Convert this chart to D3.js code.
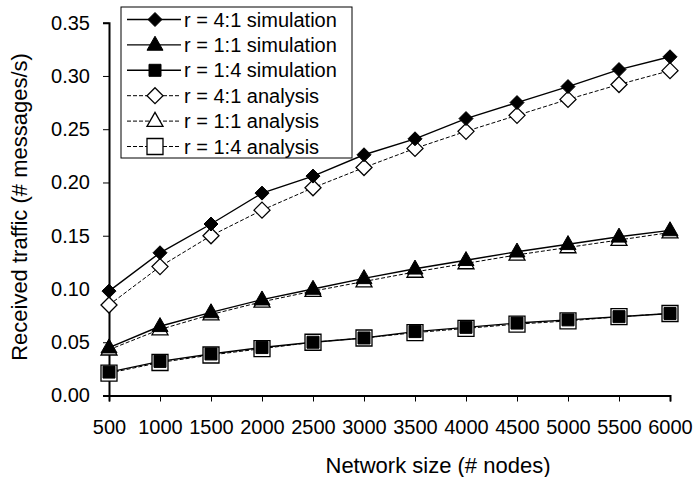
<!DOCTYPE html>
<html>
<head>
<meta charset="utf-8">
<script src="https://cdn.jsdelivr.net/npm/d3@7"></script>
<style>
  body { margin: 0; background: #fff; }
  text { font-family: "Liberation Sans", Arial, sans-serif; fill: #000; }
</style>
</head>
<body>
<script>
(function () {
  'use strict'
  const sizes = [500, 1000, 1500, 2000, 2500, 3000, 3500, 4000, 4500, 5000, 5500, 6000]
  const yTicks = [0, 0.05, 0.10, 0.15, 0.20, 0.25, 0.30, 0.35]

  const sim41 = [0.098, 0.134, 0.161, 0.190, 0.206, 0.226, 0.241, 0.260, 0.275, 0.290, 0.306, 0.318]
  const sim11 = [0.045, 0.065, 0.078, 0.090, 0.100, 0.110, 0.119, 0.127, 0.135, 0.142, 0.149, 0.155]
  const sim14 = [0.022, 0.032, 0.039, 0.045, 0.050, 0.054, 0.060, 0.064, 0.068, 0.071, 0.074, 0.077]
  const ana41 = [0.085, 0.121, 0.150, 0.174, 0.195, 0.214, 0.232, 0.248, 0.263, 0.278, 0.292, 0.305]
  const ana11 = [0.043, 0.062, 0.076, 0.088, 0.098, 0.107, 0.116, 0.124, 0.132, 0.139, 0.146, 0.153]
  const ana14 = [0.021, 0.031, 0.038, 0.044, 0.050, 0.054, 0.059, 0.063, 0.067, 0.070, 0.074, 0.077]

  // analysis drawn first so the filled markers sit on top
  const series = [
    {name: 'r = 4:1 analysis', values: ana41, shape: 'diamond', filled: false, legend: 3},
    {name: 'r = 1:1 analysis', values: ana11, shape: 'triangle', filled: false, legend: 4},
    {name: 'r = 1:4 analysis', values: ana14, shape: 'square', filled: false, legend: 5},
    {name: 'r = 4:1 simulation', values: sim41, shape: 'diamond', filled: true, legend: 0},
    {name: 'r = 1:1 simulation', values: sim11, shape: 'triangle', filled: true, legend: 1},
    {name: 'r = 1:4 simulation', values: sim14, shape: 'square', filled: true, legend: 2}
  ]

  const width = 696
  const height = 477
  const svg = d3.select('body').append('svg')
    .attr('width', width)
    .attr('height', height)

  const x = d3.scalePoint().domain(sizes).range([109, 670])
  const y = d3.scaleLinear().domain([0, 0.35]).range([395.5, 22.7])

  function markerPath(shape, filled) {
    if (shape === 'diamond') {
      const r = filled ? 7 : 8
      return `M0,${-r}L${r},0L0,${r}L${-r},0Z`
    }
    if (shape === 'triangle') {
      const w = 8, h = 14
      return `M0,${-h * 0.62}L${w},${h * 0.38}L${-w},${h * 0.38}Z`
    }
    const s = filled ? 6 : 8
    return `M${-s},${-s}H${s}V${s}H${-s}Z`
  }

  // axes
  const yAxis = svg.append('g')
    .attr('transform', 'translate(109,0)')
    .call(d3.axisLeft(y).tickValues(yTicks).tickFormat(d3.format('.2f')).tickSizeOuter(0).tickSize(6).tickPadding(13))
  yAxis.select('.domain').attr('stroke-width', 2)
  yAxis.selectAll('text').attr('font-size', 20).attr('font-family', '"Liberation Sans", Arial, sans-serif')

  const xAxis = svg.append('g')
    .attr('transform', 'translate(0,395.5)')
    .call(d3.axisBottom(x).tickSizeOuter(0).tickSize(6).tickPadding(18))
  xAxis.select('.domain').attr('stroke-width', 2)
  xAxis.selectAll('text').attr('font-size', 20).attr('font-family', '"Liberation Sans", Arial, sans-serif')

  svg.append('text')
    .attr('x', 438)
    .attr('y', 465)
    .attr('dy', '0.35em')
    .attr('text-anchor', 'middle')
    .attr('font-size', 22)
    .text('Network size (# nodes)')

  svg.append('text')
    .attr('transform', 'translate(19,207) rotate(-90)')
    .attr('dy', '0.35em')
    .attr('text-anchor', 'middle')
    .attr('font-size', 22)
    .text('Received traffic (# messages/s)')

  const line = d3.line()
    .x((d, i) => x(sizes[i]))
    .y(d => y(d))

  series.forEach(s => {
    svg.append('path')
      .datum(s.values)
      .attr('d', line)
      .attr('fill', 'none')
      .attr('stroke', '#000')
      .attr('stroke-width', s.filled ? 1.4 : 1)
      .attr('stroke-dasharray', s.filled ? null : '4,2')
  })

  series.forEach(s => {
    svg.append('g').selectAll('path')
      .data(s.values)
      .enter().append('path')
      .attr('transform', (d, i) => `translate(${x(sizes[i])},${y(d)})`)
      .attr('d', markerPath(s.shape, s.filled))
      .attr('fill', s.filled ? '#000' : '#fff')
      .attr('stroke', '#000')
      .attr('stroke-width', s.filled ? 1 : 1.3)
  })

  // legend
  const legend = svg.append('g').attr('transform', 'translate(121,7)')
  legend.append('rect')
    .attr('width', 231)
    .attr('height', 151)
    .attr('fill', '#fff')
    .attr('stroke', '#000')
    .attr('stroke-width', 1)
  const items = legend.selectAll('g.item')
    .data(series.slice().sort((a, b) => a.legend - b.legend))
    .enter().append('g')
    .attr('class', 'item')
    .attr('transform', (d, i) => `translate(0, ${12.5 + i * 25.4})`)
  items.append('line')
    .attr('x1', 6).attr('x2', 60)
    .attr('stroke', '#000')
    .attr('stroke-width', d => d.filled ? 1.4 : 1)
    .attr('stroke-dasharray', d => d.filled ? null : '4,2')
  items.append('path')
    .attr('transform', 'translate(34,0)')
    .attr('d', d => markerPath(d.shape, d.filled))
    .attr('fill', d => d.filled ? '#000' : '#fff')
    .attr('stroke', '#000')
    .attr('stroke-width', d => d.filled ? 1 : 1.3)
  items.append('text')
    .attr('x', 63)
    .attr('dy', '0.35em')
    .attr('font-size', 20)
    .text(d => d.name)
})()
</script>
</body>
</html>
